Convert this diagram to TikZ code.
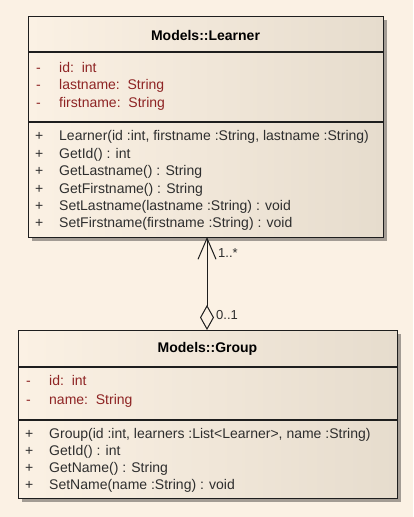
\documentclass[tikz,border=0pt]{standalone}
\usepackage{fontspec}
\setmainfont{Liberation Sans}
\usetikzlibrary{shadows,arrows.meta}
\definecolor{bg}{HTML}{FBF1E4}
\definecolor{boxl}{HTML}{FBF1E4}
\definecolor{boxr}{HTML}{E6DCCD}
\definecolor{attrc}{HTML}{8E2424}
\definecolor{methc}{HTML}{2E2E2E}
\definecolor{edge}{HTML}{1E1E1E}
\tikzset{
  classbox/.style={draw=edge, line width=1.2pt, left color=boxl, right color=boxr,
    rectangle, inner sep=0pt, anchor=north west,
    drop shadow={shadow xshift=3pt, shadow yshift=-3pt, opacity=0.35, fill=black}},
  sep/.style={draw=edge, line width=1.2pt},
  title/.style={font=\fontsize{14}{16}\selectfont\bfseries, text=black, inner sep=0pt},
  attr/.style={font=\fontsize{14}{16}\selectfont, text=attrc, anchor=base west, inner sep=0pt},
  meth/.style={font=\fontsize{14}{16}\selectfont, text=methc, anchor=base west, inner sep=0pt},
  mult/.style={font=\fontsize{13}{15}\selectfont, text=methc, anchor=base west, inner sep=0pt},
}
\begin{document}
\begin{tikzpicture}[x=1pt,y=-1pt]
\fill[bg] (0,0) rectangle (413,517);
\useasboundingbox (0,0) rectangle (413,517);

% Learner class
\node[classbox, minimum width=355pt, minimum height=221pt] (learner) at (28,16) {};
\draw[sep] (28,52) -- (383,52);
\draw[sep] (28,122) -- (383,122);
\node[title] (ltitle) at (205.5,35) {Models::Learner};
\node[attr] (la1m) at (36,72) {-};
\node[attr] (la1) at (59,72) {id:\ \ int};
\node[attr] (la2m) at (36,89) {-};
\node[attr] (la2) at (59,89) {lastname:\ \ String};
\node[attr] (la3m) at (36,107) {-};
\node[attr] (la3) at (59,107) {firstname:\ \ String};
\node[meth] (lm1p) at (35,140) {+};
\node[meth] (lm1) at (59,140) {Learner(id :int, firstname :String, lastname :String)};
\node[meth] (lm2p) at (35,158) {+};
\node[meth] (lm2) at (59,158) {GetId() : int};
\node[meth] (lm3p) at (35,175) {+};
\node[meth] (lm3) at (59,175) {GetLastname() : String};
\node[meth] (lm4p) at (35,193) {+};
\node[meth] (lm4) at (59,193) {GetFirstname() : String};
\node[meth] (lm5p) at (35,210) {+};
\node[meth] (lm5) at (59,210) {SetLastname(lastname :String) : void};
\node[meth] (lm6p) at (35,227) {+};
\node[meth] (lm6) at (59,227) {SetFirstname(firstname :String) : void};

% Group class
\node[classbox, minimum width=379pt, minimum height=168pt] (group) at (18,330) {};
\draw[sep] (18,367) -- (397,367);
\draw[sep] (18,420) -- (397,420);
\node[title] (gtitle) at (207.5,349) {Models::Group};
\node[attr] (ga1m) at (26,385) {-};
\node[attr] (ga1) at (49,385) {id:\ \ int};
\node[attr] (ga2m) at (26,404) {-};
\node[attr] (ga2) at (49,404) {name:\ \ String};
\node[meth] (gm1p) at (25,438) {+};
\node[meth] (gm1) at (49,438) {Group(id :int, learners :List<Learner>, name :String)};
\node[meth] (gm2p) at (25,455) {+};
\node[meth] (gm2) at (49,455) {GetId() : int};
\node[meth] (gm3p) at (25,472) {+};
\node[meth] (gm3) at (49,472) {GetName() : String};
\node[meth] (gm4p) at (25,489) {+};
\node[meth] (gm4) at (49,489) {SetName(name :String) : void};

% Aggregation
\coordinate (aggS) at (207,330);
\coordinate (aggT) at (207,237);
\draw[edge, line width=1pt,
  {Diamond[open, fill=bg, length=25pt, width=14pt, line width=1pt]}-{Straight Barb[length=21pt, width=18pt, line width=1pt]}]
  (aggS) -- (aggT);
\node[mult] (m1) at (218,257) {1..*};
\node[mult] (m2) at (216,319) {0..1};
\end{tikzpicture}
\end{document}
